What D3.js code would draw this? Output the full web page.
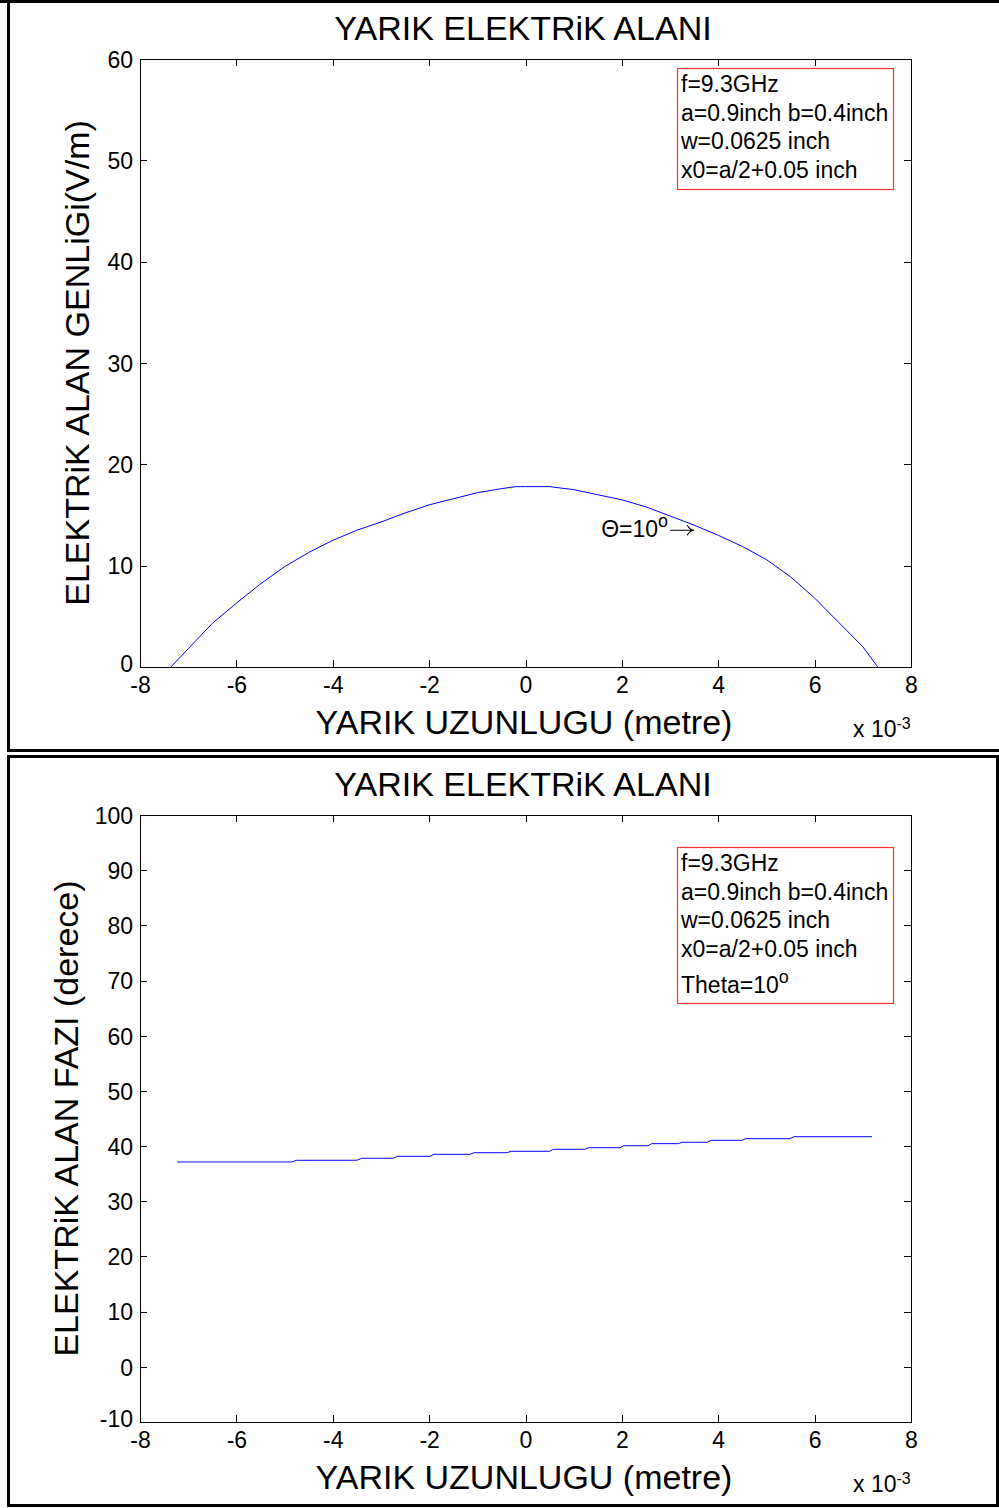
<!DOCTYPE html>
<html>
<head>
<meta charset="utf-8">
<script src="https://cdn.jsdelivr.net/npm/d3@7"></script>
<style>
  body { margin: 0; background: #fff; }
  svg text { font-family: "Liberation Sans", Arial, Helvetica, sans-serif; fill: #000; }
</style>
</head>
<body>
<div id="chart"></div>
<script>
// values (x in units of 1e-3 metre)
const titleText = "YARIK ELEKTRiK ALANI"
const xLabel = "YARIK UZUNLUGU (metre)"
const ampLabel = "ELEKTRiK ALAN GENLiGi(V/m)"
const phaseLabel = "ELEKTRiK ALAN FAZI (derece)"

const xTicks = [-8, -6, -4, -2, 0, 2, 4, 6, 8]
const ampTicks = [0, 10, 20, 30, 40, 50, 60]
const phaseTicks = [-10, 0, 10, 20, 30, 40, 50, 60, 70, 80, 90, 100]

const ampX = [-7.36, -7.0, -6.5, -6.0, -5.5, -5.0, -4.5, -4.0, -3.5, -3.0, -2.5, -2.0, -1.5, -1.0, -0.5, -0.2, 0.0,
    0.5, 1.0, 1.5, 2.0, 2.5, 3.0, 3.5, 4.0, 4.5, 5.0, 5.5, 6.0, 6.5, 7.0, 7.31]
const ampY = [0, 1.8, 4.3, 6.3, 8.2, 9.9, 11.3, 12.5, 13.5, 14.3, 15.2, 16.0, 16.6, 17.2, 17.6, 17.8, 17.8,
    17.8, 17.5, 17.0, 16.5, 15.8, 14.9, 14.0, 13.0, 11.9, 10.6, 8.9, 6.8, 4.4, 2.0, 0]

const phaseX = [-7.23, -4.85, -4.75, -3.5, -3.4, -2.75, -2.65, -1.98, -1.9, -1.15, -1.07, -0.38, -0.3, 0.5,
    0.58, 1.23, 1.31, 1.96, 2.04, 2.54, 2.62, 3.17, 3.25, 3.77, 3.85, 4.49, 4.57, 5.49, 5.57, 7.19]
const phaseY = [37.12, 37.12, 37.43, 37.43, 37.79, 37.79, 38.15, 38.15, 38.51, 38.51, 38.8, 38.8, 39.06, 39.06,
    39.42, 39.42, 39.71, 39.71, 40.07, 40.07, 40.44, 40.44, 40.69, 40.69, 41.05, 41.05, 41.34, 41.34, 41.7, 41.7]

const infoLines = ["f=9.3GHz", "a=0.9inch b=0.4inch", "w=0.0625 inch", "x0=a/2+0.05 inch"]

const W = 999, H = 1508
const bigFont = "34px", smallFont = "23px"

const svg = d3.select("#chart").append("svg")
    .attr("width", W)
    .attr("height", H)

// outer frames (two stacked figure images)
svg.append("path")
    .attr("d", "M8.5,0 V750.5 M0,1.5 H999 M7,750.5 H999")
    .attr("stroke", "#000").attr("stroke-width", 3).attr("fill", "none")
svg.append("path")
    .attr("d", "M8.5,755.5 V1505.5 M7,756.5 H999 M7,1505.5 H999 M997.5,755 V1507")
    .attr("stroke", "#000").attr("stroke-width", 3).attr("fill", "none")

// plain hyphen as minus, like the original
const fmt = d => String(d)

function panel(opts) {
    const x = d3.scaleLinear().domain([-8, 8]).range([140, 911])
    const y = d3.scaleLinear().domain(opts.yDomain).range([opts.bottom, opts.top])
    const g = svg.append("g")

    // box
    g.append("rect")
        .attr("x", x(-8)).attr("y", y(opts.yDomain[1]))
        .attr("width", x(8) - x(-8)).attr("height", y(opts.yDomain[0]) - y(opts.yDomain[1]))
        .attr("fill", "none").attr("stroke", "#000").attr("stroke-width", 1)
        .attr("shape-rendering", "crispEdges")

    // inward ticks on all four sides
    const tickLen = 7
    const bottomAx = g.append("g").attr("transform", `translate(0,${y(opts.yDomain[0])})`)
        .call(d3.axisBottom(x).tickValues(xTicks).tickSize(-tickLen).tickFormat(fmt))
    const topAx = g.append("g").attr("transform", `translate(0,${y(opts.yDomain[1])})`)
        .call(d3.axisTop(x).tickValues(xTicks).tickSize(-tickLen).tickFormat(""))
    const leftAx = g.append("g").attr("transform", `translate(${x(-8)},0)`)
        .call(d3.axisLeft(y).tickValues(opts.yTicks).tickSize(-tickLen).tickPadding(7).tickFormat(fmt))
    const rightAx = g.append("g").attr("transform", `translate(${x(8)},0)`)
        .call(d3.axisRight(y).tickValues(opts.yTicks).tickSize(-tickLen).tickFormat(""))
    ;[bottomAx, topAx, leftAx, rightAx].forEach(a => {
        a.select(".domain").remove()
        a.selectAll("line").attr("stroke", "#000").attr("shape-rendering", "crispEdges")
        a.selectAll("text").style("font-size", smallFont).attr("fill", "#000")
            .style("font-family", "'Liberation Sans', Arial, sans-serif")
    })
    bottomAx.selectAll("text").attr("dy", "0.71em").attr("y", 10)
    leftAx.selectAll("text").attr("dy", "0.36em")
    // lowest y label sits slightly up
    leftAx.selectAll(".tick").filter(d => d === opts.yDomain[0]).select("text").attr("dy", "0.2em")

    // data line
    const pts = opts.xs.map((v, i) => [v, opts.ys[i]])
    g.append("path")
        .datum(pts)
        .attr("d", d3.line().x(d => x(d[0])).y(d => y(d[1])))
        .attr("fill", "none").attr("stroke", "#0000ff").attr("stroke-width", 1)

    // title and axis labels
    g.append("text").attr("x", 523).attr("y", opts.top - 19)
        .attr("text-anchor", "middle").style("font-size", bigFont).text(titleText)
    g.append("text").attr("x", 524).attr("y", opts.bottom + 67)
        .attr("text-anchor", "middle").style("font-size", bigFont).text(xLabel)
    g.append("text")
        .attr("transform", `translate(${opts.yLabelX},${(opts.top + opts.bottom) / 2}) rotate(-90)`)
        .attr("text-anchor", "middle").style("font-size", bigFont).text(opts.yLabel)

    // exponent label
    const ex = g.append("text").attr("x", 853).attr("y", opts.bottom + 70).style("font-size", smallFont)
    ex.append("tspan").text("x 10")
    ex.append("tspan").attr("dy", -8).style("font-size", "16px").text("-3")

    // info box
    const boxTop = opts.boxTop
    g.append("rect")
        .attr("x", 677.5).attr("y", boxTop + 0.5)
        .attr("width", 216).attr("height", opts.boxH)
        .attr("fill", "#fff").attr("stroke", "#ff3030").attr("stroke-width", 1.2)
    opts.info.forEach((t, i) => {
        g.append("text").attr("x", 681).attr("y", boxTop + 24 + i * 28.7)
            .style("font-size", smallFont).text(t)
    })
    return { g, x, y }
}

const ampPanel = panel({
    yDomain: [0, 60], yTicks: ampTicks, top: 59, bottom: 667,
    xs: ampX, ys: ampY, yLabel: ampLabel, yLabelX: 89,
    info: infoLines, boxTop: 68, boxH: 121
})

// theta annotation on the amplitude curve
const ann = ampPanel.g.append("text")
    .attr("x", ampPanel.x(1.57)).attr("y", ampPanel.y(13.6) + 8)
    .style("font-size", smallFont)
ann.append("tspan").text("\u0398=10")
ann.append("tspan").attr("dy", -10).style("font-size", "18px").text("o")
// thin arrow like the TeX \rightarrow
const ax0 = ampPanel.x(1.57) + 69, ay0 = ampPanel.y(13.6) + 1
ampPanel.g.append("path")
    .attr("d", `M${ax0},${ay0} H${ax0 + 24} M${ax0 + 17},${ay0 - 5} Q${ax0 + 20},${ay0} ${ax0 + 24},${ay0} Q${ax0 + 20},${ay0} ${ax0 + 17},${ay0 + 5}`)
    .attr("fill", "none").attr("stroke", "#000").attr("stroke-width", 1.1)

const phasePanel = panel({
    yDomain: [-10, 100], yTicks: phaseTicks, top: 815, bottom: 1422,
    xs: phaseX, ys: phaseY, yLabel: phaseLabel, yLabelX: 78,
    info: infoLines, boxTop: 847, boxH: 156
})

// extra theta line in phase legend
const th = phasePanel.g.append("text").attr("x", 681).attr("y", 847 + 24 + 4 * 28.7 + 7)
    .style("font-size", smallFont)
th.append("tspan").text("Theta=10")
th.append("tspan").attr("dy", -10).style("font-size", "18px").text("o")
</script>
</body>
</html>
